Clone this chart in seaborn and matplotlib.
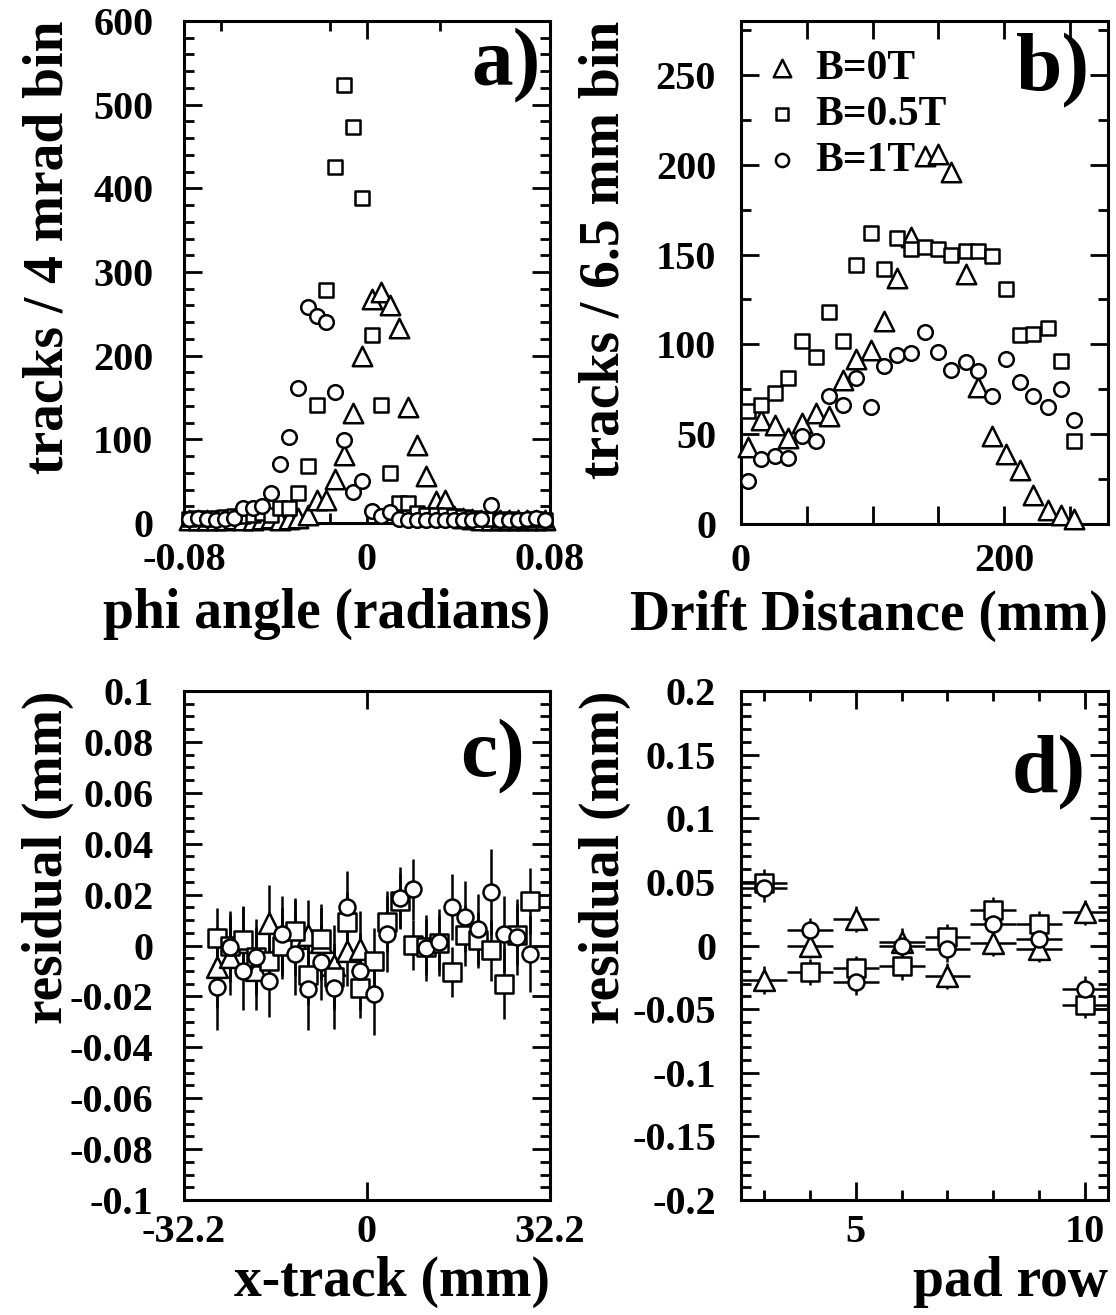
import numpy as np
import matplotlib.pyplot as plt
import seaborn as sns
from matplotlib.ticker import FixedLocator, MultipleLocator, FuncFormatter

# a) phi angle distribution, 4 mrad bins
phi_bins = [-0.078, -0.074, -0.070, -0.066, -0.062, -0.058, -0.054, -0.050, -0.046, -0.042,
            -0.038, -0.034, -0.030, -0.026, -0.022, -0.018, -0.014, -0.010, -0.006, -0.002,
            0.002, 0.006, 0.010, 0.014, 0.018, 0.022, 0.026, 0.030, 0.034, 0.038,
            0.042, 0.046, 0.050, 0.054, 0.058, 0.062, 0.066, 0.070, 0.074, 0.078]
phi_b0 = [3, 4, 3, 4, 3, 5, 4, 4, 5, 6, 4, 5, 6, 9, 27, 27, 52, 81, 131, 200,
          268, 276, 260, 233, 139, 93, 56, 26, 28, 8, 6, 5, 4, 3, 4, 3, 4, 3, 3, 4]
phi_b05 = [5, 6, 5, 6, 7, 8, 8, 10, 12, 10, 18, 18, 36, 68, 141, 278, 425, 523, 473, 388,
           225, 141, 60, 24, 24, 12, 10, 10, 9, 8, 7, 6, 5, 5, 4, 5, 4, 4, 5, 4]
phi_b1 = [5, 6, 5, 4, 5, 6, 18, 18, 20, 36, 71, 103, 161, 258, 247, 240, 157, 99, 37, 50,
          14, 8, 13, 5, 4, 4, 3, 4, 3, 4, 3, 4, 5, 22, 4, 3, 4, 5, 6, 4]

# b) drift distance distribution
drift_x = [5.3, 15.5, 25.7, 35.9, 46.6, 56.7, 66.9, 77.4, 87.8, 98.7, 108.4, 118.6, 129.3,
           139.7, 149.9, 159.8, 170.7, 180.4, 191.1, 201.3, 212.2, 222.1, 233.1, 243.3, 253.4]
drift_b0 = [43, 58, 55, 48, 56, 62, 60, 80, 92, 97, 113, 137, 160, 205, 206, 196, 139, 76,
            49, 39, 30, 16, 8, 5, 3]
drift_b05 = [63, 66, 73, 81, 102, 93, 118, 102, 144, 162, 142, 159, 153, 154, 153, 150, 152,
             152, 149, 131, 105, 106, 109, 91, 46]
drift_b1 = [24, 36, 38, 37, 49, 46, 71, 66, 81, 65, 88, 94, 95, 107, 96, 86, 90, 85, 71, 92,
            79, 71, 65, 75, 58]

# c) residual vs x-track
xtrack = [-26.45, -24.15, -21.85, -19.55, -17.25, -14.95, -12.65, -10.35, -8.05, -5.75,
          -3.45, -1.15, 1.15, 3.45, 5.75, 8.05, 10.35, 12.65, 14.95, 17.25, 19.55, 21.85,
          24.15, 26.45, 28.75]
res_b0 = [-0.0086, -0.0045, 0.0015, -0.0095, 0.0088, 0.0010, 0.0030, 0.0040, 0.0013,
          -0.0078, -0.0020, -0.0015]
err_b0 = [0.016, 0.015, 0.014, 0.016, 0.015, 0.014, 0.015, 0.014, 0.015, 0.016, 0.014, 0.015]
res_b05 = [0.0029, 0.0000, 0.0022, -0.0046, -0.0060, 0.0000, 0.0057, -0.0115, 0.0026,
           -0.0122, 0.0092, -0.0166, -0.0060, 0.0093, 0.0175, 0.0002, -0.0005, 0.0010,
           -0.0104, 0.0040, 0.0022, -0.0018, -0.0150, 0.0042, 0.0176]
err_b05 = [0.012, 0.012, 0.013, 0.012, 0.011, 0.012, 0.013, 0.012, 0.012, 0.013, 0.012, 0.012,
           0.013, 0.012, 0.011, 0.010, 0.011, 0.011, 0.010, 0.012, 0.011, 0.012, 0.014, 0.012,
           0.013]
res_b1 = [-0.0162, -0.0005, -0.0102, -0.0046, -0.0140, 0.0044, -0.0035, -0.0171, -0.0066,
          -0.0167, 0.0153, -0.0102, -0.0192, 0.0045, 0.0188, 0.0221, -0.0010, 0.0012, 0.0152,
          0.0113, 0.0064, 0.0211, 0.0046, 0.0033, -0.0032]
err_b1 = [0.017, 0.014, 0.015, 0.015, 0.014, 0.015, 0.016, 0.016, 0.015, 0.016, 0.014, 0.015,
          0.016, 0.015, 0.012, 0.012, 0.013, 0.013, 0.013, 0.014, 0.014, 0.017, 0.015, 0.015,
          0.015]

# d) residual vs pad row
pad_rows = [3, 4, 5, 6, 7, 8, 9, 10]
pad_b0 = [-0.027, 0.000, 0.021, 0.003, -0.024, 0.002, -0.003, 0.026]
pad_b05 = [0.049, -0.021, -0.018, -0.016, 0.007, 0.028, 0.017, -0.047]
pad_b1 = [0.045, 0.012, -0.029, 0.000, -0.003, 0.017, 0.005, -0.034]
pad_err = [0.011, 0.010, 0.010, 0.011, 0.010, 0.010, 0.010, 0.010]

labels = ['B=0T', 'B=0.5T', 'B=1T']

sns.set_theme(style='ticks')
plt.rcParams['font.family'] = ['Liberation Serif', 'DejaVu Serif']
plt.rcParams['font.weight'] = 'bold'
plt.rcParams['axes.labelweight'] = 'bold'
plt.rcParams['axes.unicode_minus'] = False
plt.rcParams['axes.linewidth'] = 2.0
for key in ['text.color', 'axes.labelcolor', 'xtick.color', 'ytick.color', 'axes.edgecolor',
            'xtick.labelcolor', 'ytick.labelcolor']:
    plt.rcParams[key] = 'black'

W, H = 1116, 1315
fig = plt.figure(figsize=(W / 100, H / 100), dpi=100)


def box(l, t, r, b):
    return [l / W, 1 - b / H, (r - l) / W, (b - t) / H]


ax_a = fig.add_axes(box(184, 21, 550, 523))
ax_b = fig.add_axes(box(741, 21, 1108, 524))
ax_c = fig.add_axes(box(184, 691, 550, 1200))
ax_d = fig.add_axes(box(741, 691, 1108, 1200))


def tick_text(v, p):
    if abs(v) < 1e-9:
        return '0'
    return '%g' % round(v, 6)


fmt = FuncFormatter(tick_text)


def style(ax):
    ax.tick_params(which='both', direction='in', top=True, right=True, width=2,
                   labelsize=29, color='black', labelcolor='black')
    ax.tick_params(which='major', length=13)
    ax.tick_params(which='minor', length=7)
    for s in ax.spines.values():
        s.set_linewidth(2.2)
        s.set_color('black')
    ax.xaxis.set_major_formatter(fmt)
    ax.yaxis.set_major_formatter(fmt)


def scatter(ax, x, y, marker, size, lab=None):
    sns.scatterplot(x=x, y=y, marker=marker, s=size ** 2, color='white', edgecolor='black',
                    linewidth=1.8, ax=ax, label=lab, zorder=3, clip_on=False)


# panel a
scatter(ax_a, phi_bins, phi_b0, '^', 14)
scatter(ax_a, phi_bins, phi_b05, 's', 10)
scatter(ax_a, phi_bins, phi_b1, 'o', 10.5)
ax_a.set_xlim(-0.08, 0.08)
ax_a.set_ylim(0, 600)
ax_a.xaxis.set_major_locator(FixedLocator([-0.08, 0, 0.08]))
ax_a.xaxis.set_minor_locator(FixedLocator([-0.064, -0.016, 0.032]))
ax_a.yaxis.set_major_locator(MultipleLocator(100))
ax_a.yaxis.set_minor_locator(MultipleLocator(20))
style(ax_a)
ax_a.tick_params(axis='y', pad=22)
ax_a.tick_params(axis='x', pad=14)
ax_a.set_ylabel('tracks / 4 mrad bin', fontsize=40, loc='top')
ax_a.set_xlabel('phi angle (radians)', fontsize=40, loc='right')
ax_a.text(0.975, 0.91, 'a)', transform=ax_a.transAxes, fontsize=60, fontweight='bold',
          ha='right', va='center')

# panel b
scatter(ax_b, drift_x, drift_b0, '^', 14, labels[0])
scatter(ax_b, drift_x, drift_b05, 's', 10, labels[1])
scatter(ax_b, drift_x, drift_b1, 'o', 10.5, labels[2])
ax_b.set_xlim(0, 279)
ax_b.set_ylim(0, 280)
ax_b.xaxis.set_major_locator(FixedLocator([0, 200]))
ax_b.xaxis.set_minor_locator(FixedLocator([50, 100, 150, 250]))
ax_b.yaxis.set_major_locator(MultipleLocator(50))
ax_b.yaxis.set_minor_locator(MultipleLocator(25))
style(ax_b)
ax_b.tick_params(axis='x', which='minor', length=13)
ax_b.tick_params(axis='y', pad=18)
ax_b.tick_params(axis='x', pad=14)
ax_b.set_ylabel('tracks / 6.5 mm bin', fontsize=40, loc='top')
ax_b.set_xlabel('Drift Distance (mm)', fontsize=40, loc='right')
ax_b.text(0.95, 0.90, 'b)', transform=ax_b.transAxes, fontsize=60, fontweight='bold',
          ha='right', va='center')
ax_b.legend(loc='upper left', bbox_to_anchor=(0.01, 0.985), frameon=False, fontsize=30,
            handlelength=0.8, handletextpad=0.4, labelspacing=0.19, markerscale=0.9,
            borderaxespad=0.3, borderpad=0.2)

# panel c
ax_c.errorbar(xtrack[:12], res_b0, yerr=err_b0, fmt='none', ecolor='black', elinewidth=1.8,
              zorder=2)
ax_c.errorbar(xtrack, res_b05, yerr=err_b05, fmt='none', ecolor='black', elinewidth=1.8,
              zorder=2)
ax_c.errorbar(xtrack, res_b1, yerr=err_b1, fmt='none', ecolor='black', elinewidth=1.8,
              zorder=2)
scatter(ax_c, xtrack[:12], res_b0, '^', 15)
scatter(ax_c, xtrack, res_b05, 's', 12.5)
scatter(ax_c, xtrack, res_b1, 'o', 11.5)
ax_c.set_xlim(-32.2, 32.2)
ax_c.set_ylim(-0.1, 0.1)
ax_c.xaxis.set_major_locator(FixedLocator([-32.2, 0, 32.2]))
ax_c.yaxis.set_major_locator(MultipleLocator(0.02))
ax_c.yaxis.set_minor_locator(MultipleLocator(0.005))
style(ax_c)
ax_c.tick_params(axis='y', pad=22)
ax_c.tick_params(axis='x', pad=10)
ax_c.set_ylabel('residual (mm)', fontsize=40, loc='top')
ax_c.set_xlabel('x-track (mm)', fontsize=40, loc='right')
ax_c.text(0.93, 0.87, 'c)', transform=ax_c.transAxes, fontsize=60, fontweight='bold',
          ha='right', va='center')

# panel d
for vals in (pad_b0, pad_b05, pad_b1):
    ax_d.errorbar(pad_rows, vals, xerr=0.5, yerr=pad_err, fmt='none', ecolor='black',
                  elinewidth=1.8, zorder=2)
scatter(ax_d, pad_rows, pad_b0, '^', 15)
scatter(ax_d, pad_rows, pad_b05, 's', 12.5)
scatter(ax_d, pad_rows, pad_b1, 'o', 11.5)
ax_d.set_xlim(2.5, 10.5)
ax_d.set_ylim(-0.2, 0.2)
ax_d.xaxis.set_major_locator(FixedLocator([5, 10]))
ax_d.xaxis.set_minor_locator(MultipleLocator(1))
ax_d.yaxis.set_major_locator(MultipleLocator(0.05))
ax_d.yaxis.set_minor_locator(MultipleLocator(0.01))
style(ax_d)
ax_d.tick_params(axis='y', pad=18)
ax_d.tick_params(axis='x', pad=10)
ax_d.set_ylabel('residual (mm)', fontsize=40, loc='top')
ax_d.set_xlabel('pad row', fontsize=40, loc='right')
ax_d.text(0.94, 0.84, 'd)', transform=ax_d.transAxes, fontsize=60, fontweight='bold',
          ha='right', va='center')

ax_a.yaxis.set_label_coords(-0.30, 1.0)
ax_c.yaxis.set_label_coords(-0.30, 1.0)
ax_b.yaxis.set_label_coords(-0.30, 1.0)
ax_d.yaxis.set_label_coords(-0.30, 1.0)
ax_a.xaxis.set_label_coords(1.0, -0.13)
ax_b.xaxis.set_label_coords(1.0, -0.13)
ax_c.xaxis.set_label_coords(1.0, -0.11)
ax_d.xaxis.set_label_coords(1.0, -0.11)

fig.savefig('out.png', dpi=100)
